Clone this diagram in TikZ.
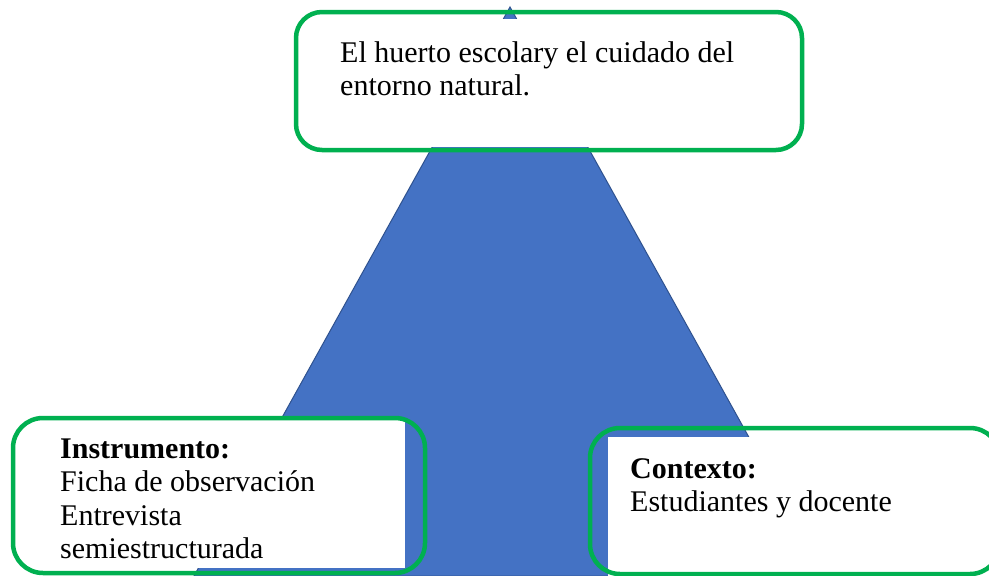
\documentclass[tikz,border=0pt]{standalone}
\usepackage{fontspec}
\setmainfont{Liberation Serif}
\definecolor{triblue}{HTML}{4472C4}
\definecolor{triedge}{HTML}{2F528F}
\definecolor{boxgreen}{HTML}{00B050}
\tikzset{
  tri/.style={fill=triblue, draw=triedge, line width=1pt, line join=miter},
  whitebox/.style={fill=white, draw=none},
  greenframe/.style={draw=boxgreen, line width=4.5pt},
  txt/.style={inner sep=0pt, anchor=base west, font=\fontsize{30}{33.5}\selectfont}
}
\begin{document}
\begin{tikzpicture}[x=1pt,y=-1pt]
\useasboundingbox (0,0) rectangle (989,576);
\clip (0,0) rectangle (989,576);
% triangle
\coordinate (apex) at (510,7);
\coordinate (bl) at (194,576);
\coordinate (br) at (826,576);
\draw[tri] (apex) -- (br) -- (bl) -- cycle;
% top box
\fill[whitebox] (299,19) rectangle (799,147);
\draw[greenframe, rounded corners=26pt] (296,12) rectangle (802,150);
\node[txt] (top) at (340,62) {\vtop{\hbox{El huerto escolary el cuidado del}\hbox{entorno natural.}}};
% left box
\fill[whitebox] (38,418) rectangle (405,568);
\draw[greenframe, rounded corners=30pt] (13,418) rectangle (425,573);
\node[txt] (left) at (60,458) {\vtop{\hbox{\textbf{Instrumento:}}\hbox{Ficha de observación}\hbox{Entrevista}\hbox{semiestructurada}}};
% right box
\fill[whitebox] (608,437) rectangle (995,576);
\draw[greenframe, rounded corners=30pt] (590,428) rectangle (1000,574);
\node[txt] (right) at (630,478) {\vtop{\hbox{\textbf{Contexto:}}\hbox{Estudiantes y docente}}};
\end{tikzpicture}
\end{document}
